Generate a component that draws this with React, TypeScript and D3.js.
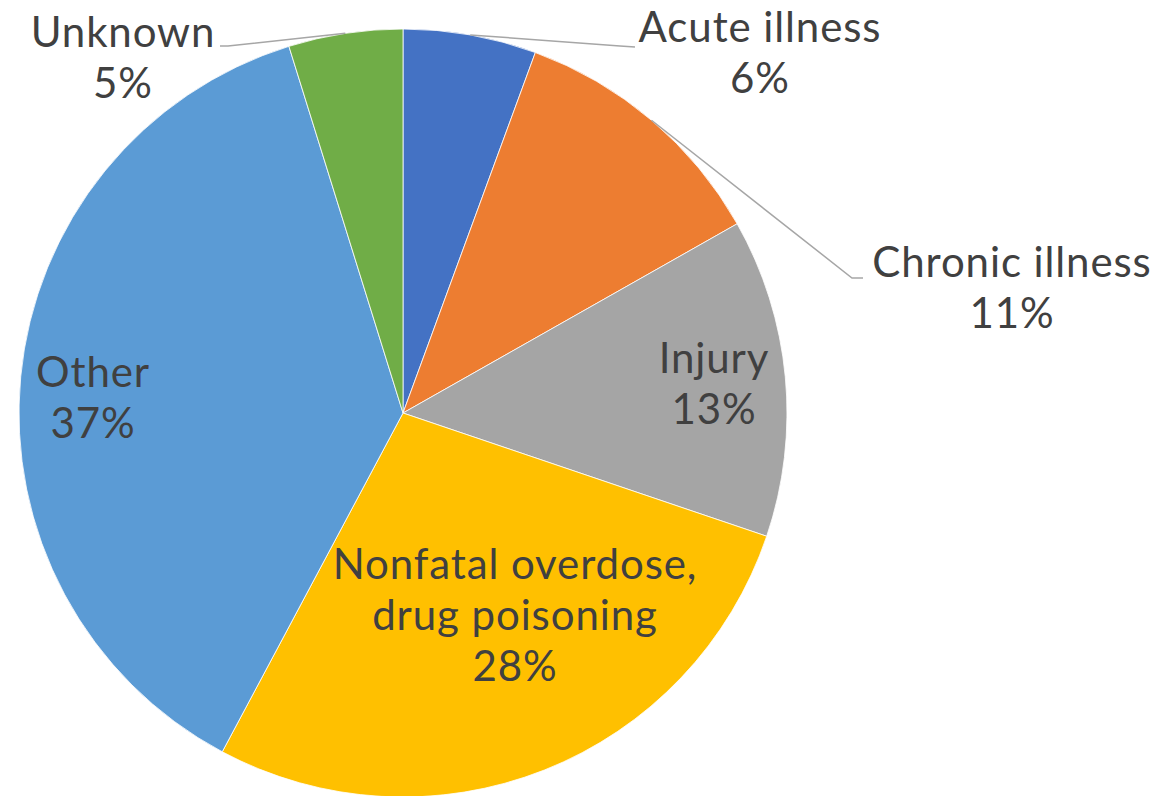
import React from "react";
import * as d3 from "d3";

const categories = ["Acute illness", "Chronic illness", "Injury", "Nonfatal overdose, drug poisoning", "Other", "Unknown"];
const values = [5.6, 11.2, 13.4, 27.6, 37.4, 4.8];
const colors = ["#4472C4", "#ED7D31", "#A5A5A5", "#FFC000", "#5B9BD5", "#70AD47"];
const labelLines = [["Acute illness"], ["Chronic illness"], ["Injury"], ["Nonfatal overdose,", "drug poisoning"], ["Other"], ["Unknown"]];

// layout (not data): label anchor (center x, first baseline y) and leader-line end points
const labelLayout: { x: number; y: number; leader?: [number, number][] }[] = [
  { x: 760, y: 42, leader: [[620, 46], [635, 47]] },
  { x: 1012, y: 277, leader: [[852, 278], [863, 278]] },
  { x: 714, y: 373 },
  { x: 515, y: 579 },
  { x: 93, y: 387 },
  { x: 123, y: 47, leader: [[228, 46], [220, 46]] },
];

const W = 1158;
const H = 796;
const cx = 403;
const cy = 413;
const R = 384;
const LINE = 51;
const FONT = "'Lato', 'Open Sans', sans-serif";

export default function App() {
  const pie = d3.pie<number>().sort(null).value((d) => d);
  const arcs = pie(values);
  const arc = d3.arc<d3.PieArcDatum<number>>().innerRadius(0).outerRadius(R);
  const total = d3.sum(values);
  const line = d3.line();

  return (
    <svg width={W} height={H} style={{ position: "absolute", left: 0, top: 0, background: "#fff" }}>
      <g transform={`translate(${cx},${cy})`}>
        {arcs.map((a, i) => (
          <path key={categories[i]} d={arc(a) || ""} fill={colors[i]} stroke="#fff" strokeWidth={0.8} />
        ))}
      </g>
      {arcs.map((a, i) => {
        const L = labelLayout[i];
        if (!L.leader) return null;
        const mid = (a.startAngle + a.endAngle) / 2;
        const start: [number, number] = [cx + R * Math.sin(mid), cy - R * Math.cos(mid)];
        const pts: [number, number][] = [start, ...L.leader];
        return <path key={"l" + i} d={line(pts) || ""} fill="none" stroke="#A6A6A6" strokeWidth={1.5} />;
      })}
      {arcs.map((a, i) => {
        const L = labelLayout[i];
        const pct = d3.format(".0%")(values[i] / total);
        const lines = [...labelLines[i], pct];
        return (
          <text key={"t" + i} x={L.x} y={L.y} textAnchor="middle" fontFamily={FONT} fontSize={42} letterSpacing={0.9} fill="#404040">
            {lines.map((s, k) => (
              <tspan key={k} x={L.x} y={L.y + k * LINE}>
                {s}
              </tspan>
            ))}
          </text>
        );
      })}
    </svg>
  );
}
